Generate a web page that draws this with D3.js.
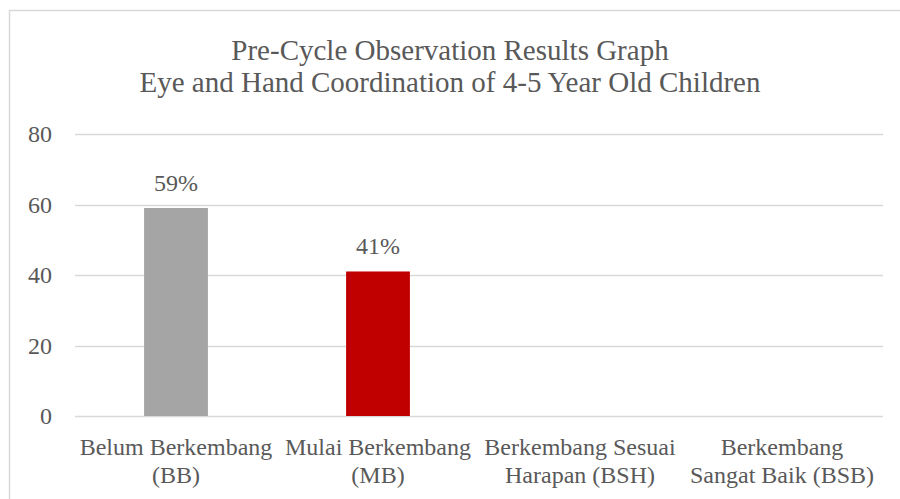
<!DOCTYPE html>
<html><head><meta charset="utf-8">
<script src="https://cdn.jsdelivr.net/npm/d3@7/dist/d3.min.js"></script>
<style>body{margin:0;background:#fff;} svg{display:block;}</style>
</head><body>
<svg id="c" width="900" height="499"></svg>
<script>
const categories = ["Belum Berkembang (BB)", "Mulai Berkembang (MB)", "Berkembang Sesuai Harapan (BSH)", "Berkembang Sangat Baik (BSB)"];
const categoryLines = [["Belum Berkembang", "(BB)"], ["Mulai Berkembang", "(MB)"], ["Berkembang Sesuai", "Harapan (BSH)"], ["Berkembang", "Sangat Baik (BSB)"]];
const values = [59, 41, null, null];
const barColors = ["#a5a5a5", "#c00000", "#a5a5a5", "#a5a5a5"];
const yTicks = [0, 20, 40, 60, 80];
const titleLines = ["Pre-Cycle Observation Results Graph", "Eye and Hand Coordination of 4-5 Year Old Children"];

const svg = d3.select("#c");
const axisFont = "'Liberation Serif', 'Times New Roman', serif";
const textColor = "#595959";

// chart border
svg.append("rect").attr("x", 9.5).attr("y", 10.5).attr("width", 900).attr("height", 500)
  .attr("fill", "none").attr("stroke", "#d9d9d9").attr("stroke-width", 1.5);

const x = d3.scaleBand().domain(categories).range([75, 883]).paddingInner(0.684).paddingOuter(0.342);
const y = d3.scaleLinear().domain([0, 80]).range([416, 134]);

// title
svg.append("g").selectAll("text").data(titleLines).join("text")
  .attr("x", 450).attr("y", (d, i) => 60 + i * 31.5)
  .attr("text-anchor", "middle").attr("fill", textColor)
  .style("font-family", "'Liberation Serif', 'Times New Roman', serif").style("font-size", "29px")
  .text(d => d);

// gridlines
svg.append("g").selectAll("line").data(yTicks).join("line")
  .attr("x1", 75).attr("x2", 883).attr("y1", d => Math.round(y(d)) + 0.5).attr("y2", d => Math.round(y(d)) + 0.5)
  .attr("stroke", "#d9d9d9").attr("stroke-width", 1.5);

// y axis labels
const yAxis = d3.axisLeft(y).tickValues(yTicks).tickSize(0).tickPadding(0);
const gy = svg.append("g").attr("transform", "translate(52,0)").call(yAxis);
gy.select(".domain").remove();
gy.selectAll("text").attr("fill", textColor).style("font-family", axisFont).style("font-size", "24px");

// bars
svg.append("g").selectAll("rect").data(values.map((v, i) => ({v, c: categories[i], col: barColors[i]})).filter(d => d.v != null))
  .join("rect")
  .attr("x", d => x(d.c)).attr("width", x.bandwidth())
  .attr("y", d => y(d.v)).attr("height", d => y(0) - y(d.v))
  .attr("fill", d => d.col);

// data labels
svg.append("g").selectAll("text").data(values.map((v, i) => ({v, c: categories[i]})).filter(d => d.v != null))
  .join("text")
  .attr("x", d => x(d.c) + x.bandwidth() / 2).attr("y", d => y(d.v) - 17)
  .attr("text-anchor", "middle").attr("fill", textColor)
  .style("font-family", axisFont).style("font-size", "24px")
  .text(d => d.v + "%");

// category labels
const gx = svg.append("g");
categories.forEach((c, i) => {
  const cx = x(c) + x.bandwidth() / 2;
  const t = gx.append("text").attr("x", cx).attr("y", 455)
    .attr("text-anchor", "middle").attr("fill", textColor)
    .style("font-family", axisFont).style("font-size", "24px");
  categoryLines[i].forEach((ln, j) => {
    t.append("tspan").attr("x", cx).attr("dy", j === 0 ? 0 : 28).text(ln);
  });
});
</script>
</body></html>
